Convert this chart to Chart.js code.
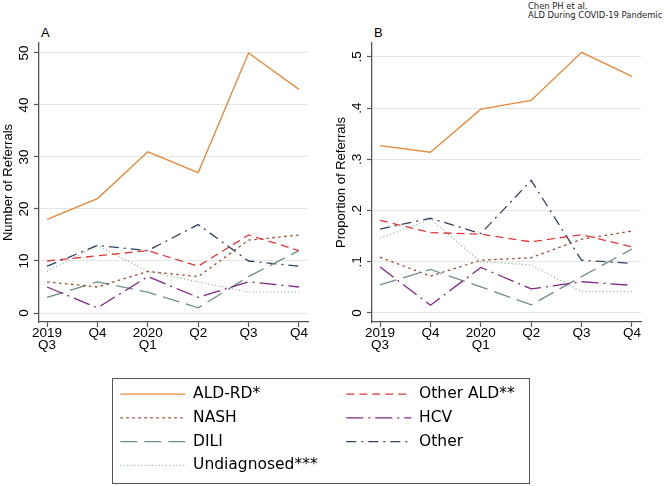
<!DOCTYPE html>
<html><head><meta charset="utf-8">
<script src="https://cdn.jsdelivr.net/npm/chart.js@4.4.0/dist/chart.umd.min.js"></script>
<style>
html,body{margin:0;padding:0;background:#fff;}
body{width:666px;height:486px;position:relative;overflow:hidden;}
canvas{position:absolute;}
.t{position:absolute;white-space:nowrap;color:#000;}
</style></head><body>
<div class="t" style="left:528px;top:1.6px;font:8.4px/9.7px 'DejaVu Sans';color:#222">Chen PH et al.<br>ALD During COVID-19 Pandemic</div>
<div class="t" style="left:41px;top:26px;font:13px/13px 'Liberation Sans'">A</div>
<div class="t" style="left:374px;top:26px;font:13px/13px 'Liberation Sans'">B</div>
<canvas id="cA" width="333" height="360" style="left:0;top:0"></canvas>
<canvas id="cB" width="333" height="360" style="left:333px;top:0"></canvas>
<div style="position:absolute;left:112px;top:378px;width:416px;height:104px;border:1px solid #555;"></div>
<canvas id="L1" width="440" height="110" style="left:112px;top:378px"></canvas>
<canvas id="L2" width="440" height="110" style="left:338px;top:378px"></canvas>
<script>
// ---- data ----
const quarterLabels = [["2019","Q3"],["Q4"],["2020","Q1"],["Q2"],["Q3"],["Q4"]];
const seriesNames = ["ALD-RD*","Other ALD**","NASH","HCV","DILI","Other","Undiagnosed***"];

const countALDRD    = [18, 22, 31, 27, 50, 43];
const countOtherALD = [10, 11, 12, 9, 15, 12];
const countNASH     = [6, 5, 8, 7, 14, 15];
const countHCV      = [5, 1, 7, 3, 6, 5];
const countDILI     = [3, 6, 4, 1, 7, 12];
const countOther    = [9, 13, 12, 17, 10, 9];
const countUndiag   = [8, 13, 8, 6, 4, 4];

const propALDRD    = [0.327, 0.314, 0.398, 0.415, 0.509, 0.462];
const propOtherALD = [0.181, 0.157, 0.154, 0.139, 0.153, 0.129];
const propNASH     = [0.109, 0.072, 0.103, 0.108, 0.144, 0.160];
const propHCV      = [0.090, 0.015, 0.089, 0.047, 0.061, 0.054];
const propDILI     = [0.055, 0.085, 0.051, 0.016, 0.071, 0.125];
const propOther    = [0.164, 0.185, 0.155, 0.259, 0.103, 0.097];
const propUndiag   = [0.146, 0.183, 0.100, 0.094, 0.042, 0.042];

const yTicksA = [0, 10, 20, 30, 40, 50];
const yTickLabelsA = ["0","10","20","30","40","50"];
const yTicksB = [0, 0.1, 0.2, 0.3, 0.4, 0.5];
const yTickLabelsB = ["0",".1",".2",".3",".4",".5"];

// ---- styles ----
const styles = {
  "ALD-RD*":        {color:"#e8873a", dash:[]},
  "Other ALD**":    {color:"#e0383c", dash:[8,5]},
  "NASH":           {color:"#9c4a32", dash:[2.5,3.5]},
  "HCV":            {color:"#7d2a82", dash:[17,5,2,5]},
  "DILI":           {color:"#6f8f84", dash:[17,7]},
  "Other":          {color:"#314263", dash:[10,5,2,5]},
  "Undiagnosed***": {color:"#8fb49a", dash:[1,2.5]}
};
const LW = 1.3;
const FONT = "'Liberation Sans', Arial, sans-serif";

function mkDatasets(valueLists){
  return seriesNames.map((name, k) => ({
    label: name,
    data: valueLists[k].map((v, i) => ({x: i, y: v})),
    borderColor: styles[name].color,
    borderDash: styles[name].dash,
    borderWidth: LW,
    pointRadius: 0,
    tension: 0,
    fill: false
  }));
}

function panel(id, valueLists, yMin, yMax, yTicks, yTickLabels, yTitle, lblPad){
  return new Chart(document.getElementById(id), {
    type: 'line',
    data: {datasets: mkDatasets(valueLists)},
    options: {
      responsive: false, animation: false, events: [],
      layout: {padding: {top: 43, right: 25, left: 0, bottom: 0}},
      plugins: {legend: {display: false}, tooltip: {enabled: false}, title: {display: false}},
      scales: {
        x: {
          type: 'linear', min: -0.16, max: 5.18,
          afterBuildTicks: s => { s.ticks = quarterLabels.map((q, i) => ({value: i})); },
          afterFit: s => { s.height = 38; },
          grid: {drawOnChartArea: false, drawTicks: true, tickLength: 5, tickColor: '#555', tickWidth: 1.2},
          border: {color: '#555', width: 1.3},
          ticks: {color: '#000', padding: 0, maxRotation: 0, minRotation: 0, autoSkip: false,
                  font: {family: FONT, size: 13.5, lineHeight: 0.92},
                  callback: (v, i) => quarterLabels[i]}
        },
        y: {
          type: 'linear', min: yMin, max: yMax,
          afterBuildTicks: s => { s.ticks = yTicks.map(v => ({value: v})); },
          afterFit: s => { s.width = 39; },
          grid: {color: '#e6e6e6', lineWidth: 1, drawTicks: true, tickLength: 5, tickColor: '#555', tickWidth: 1.2},
          border: {color: '#555', width: 1.3},
          title: {display: true, text: yTitle, color: '#000', font: {family: FONT, size: 13}, padding: {top: 1, bottom: 0}},
          ticks: {color: '#000', padding: lblPad, minRotation: 90, maxRotation: 90, crossAlign: 'center', autoSkip: false,
                  font: {family: FONT, size: 13.5},
                  callback: (v, i) => yTickLabels[i]}
        }
      }
    }
  });
}

panel('cA', [countALDRD, countOtherALD, countNASH, countHCV, countDILI, countOther, countUndiag],
      -1.73, 51.92, yTicksA, yTickLabelsA, 'Number of Referrals', 2.5);
panel('cB', [propALDRD, propOtherALD, propNASH, propHCV, propDILI, propOther, propUndiag],
      -0.0176, 0.5273, yTicksB, yTickLabelsB, 'Proportion of Referrals', 4);

// ---- legend (two columns) ----
function legendChart(id, names){
  return new Chart(document.getElementById(id), {
    type: 'line',
    data: {datasets: names.map(n => ({label: n, data: [], borderColor: styles[n].color, borderDash: styles[n].dash, borderWidth: LW}))},
    options: {
      responsive: false, animation: false, events: [],
      layout: {padding: 0},
      scales: {x: {display: false}, y: {display: false}},
      plugins: {
        tooltip: {enabled: false},
        legend: {
          position: 'left', align: 'start',
          labels: {
            usePointStyle: true, pointStyleWidth: 65, padding: 8.3, color: '#000',
            font: {family: "'DejaVu Sans', sans-serif", size: 15.5},
            generateLabels: chart => chart.data.datasets.map((ds, i) => ({
              text: ds.label, fillStyle: 'rgba(0,0,0,0)', strokeStyle: ds.borderColor,
              lineWidth: ds.borderWidth, lineDash: ds.borderDash, lineCap: 'butt',
              pointStyle: 'line', hidden: false, datasetIndex: i, fontColor: '#000'
            }))
          }
        }
      }
    }
  });
}
legendChart('L1', ["ALD-RD*", "NASH", "DILI", "Undiagnosed***"]);
legendChart('L2', ["Other ALD**", "HCV", "Other"]);
</script>
</body></html>
